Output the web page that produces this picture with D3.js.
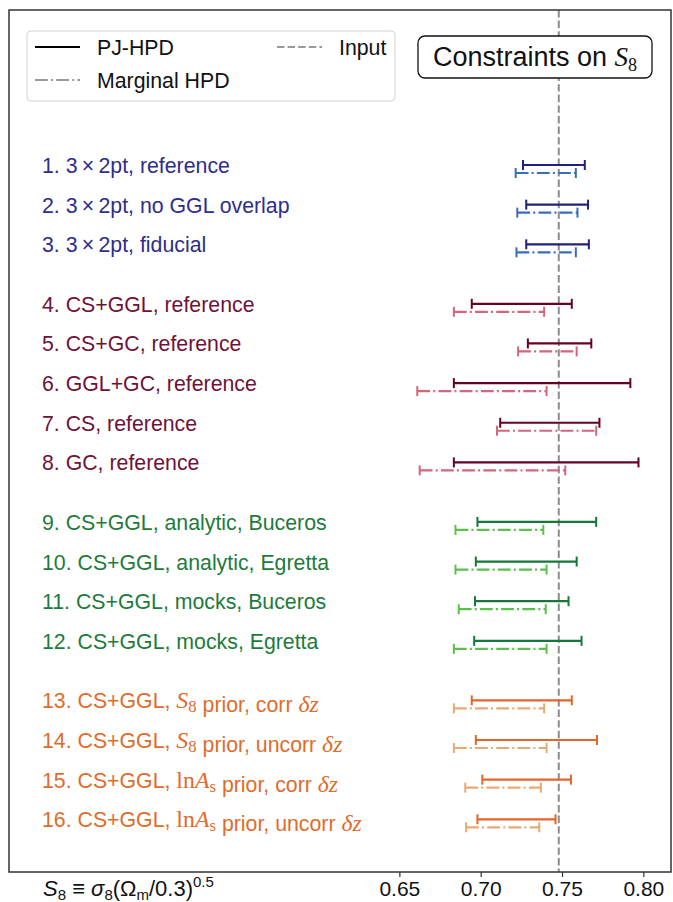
<!DOCTYPE html>
<html>
<head>
<meta charset="utf-8">
<script src="https://cdn.jsdelivr.net/npm/d3@7"></script>
<style>
  body { margin: 0; background: #fff; }
  text { font-family: "Liberation Sans", Arial, sans-serif; }
</style>
</head>
<body>
<div id="myDataVis"><svg></svg></div>
<script>
// chart values
const labels = [
  '1. 3\u2009×\u20092pt, reference',
  '2. 3\u2009×\u20092pt, no GGL overlap',
  '3. 3\u2009×\u20092pt, fiducial',
  '4. CS+GGL, reference',
  '5. CS+GC, reference',
  '6. GGL+GC, reference',
  '7. CS, reference',
  '8. GC, reference',
  '9. CS+GGL, analytic, Buceros',
  '10. CS+GGL, analytic, Egretta',
  '11. CS+GGL, mocks, Buceros',
  '12. CS+GGL, mocks, Egretta',
  '13. CS+GGL, {S8} prior, corr {dz}',
  '14. CS+GGL, {S8} prior, uncorr {dz}',
  '15. CS+GGL, {lnAs} prior, corr {dz}',
  '16. CS+GGL, {lnAs} prior, uncorr {dz}'
];
const groups = [0, 0, 0, 1, 1, 1, 1, 1, 2, 2, 2, 2, 3, 3, 3, 3];

const pjLow  = [0.726, 0.728, 0.728, 0.6945, 0.729, 0.6835, 0.712, 0.6835, 0.698, 0.697, 0.6965, 0.696, 0.6945, 0.697, 0.701, 0.698];
const pjHigh = [0.764, 0.766, 0.7665, 0.756, 0.768, 0.792, 0.773, 0.797, 0.771, 0.759, 0.754, 0.762, 0.756, 0.7715, 0.7555, 0.746];
const margLow  = [0.7215, 0.7225, 0.722, 0.6835, 0.723, 0.661, 0.710, 0.6625, 0.6845, 0.6845, 0.6865, 0.6835, 0.6835, 0.6835, 0.6905, 0.691];
const margHigh = [0.7585, 0.7595, 0.7585, 0.739, 0.759, 0.7405, 0.771, 0.752, 0.7385, 0.7405, 0.740, 0.7405, 0.739, 0.7405, 0.737, 0.736];

const inputS8 = 0.748;
const xTicks = [0.65, 0.70, 0.75, 0.80];

const solidColors = ['#22217f', '#650027', '#16773a', '#e2652a'];
const dashColors  = ['#3b6cc2', '#d3667b', '#5bbf4b', '#e7a975'];
const labelColors = ['#2d2e8c', '#6f1237', '#1d7b3b', '#e06c2b'];

const W = 673, H = 902;
const plot = {left: 9, right: 671, top: 10, bottom: 872};

const svg = d3.select('#myDataVis').select('svg')
    .attr('width', W)
    .attr('height', H);

const x = d3.scaleLinear()
    .domain([0.41, 0.817])
    .range([plot.left, plot.right]);

// rows sit one unit apart with half a unit extra between groups
const rowPos = labels.map((d, i) => i + 0.5 * groups[i]);
const y = d3.scaleLinear()
    .domain([0, 16.5])
    .range([165, 819.3]);

const offset = 8;   // marginal bar sits a bit below the PJ bar
const cap = 5;

// input line
svg.append('line')
    .attr('x1', x(inputS8))
    .attr('x2', x(inputS8))
    .attr('y1', plot.top)
    .attr('y2', plot.bottom)
    .attr('stroke', '#8c8c8c')
    .attr('stroke-width', 2)
    .attr('stroke-dasharray', '7.4,3.2');

// error bars
function drawBars(lo, hi, dy, colors, dash, cls) {
    const g = svg.selectAll('g.' + cls)
        .data(labels.map((d, i) => ({i, lo: lo[i], hi: hi[i], g: groups[i]})))
        .enter()
        .append('g')
        .attr('class', cls);

    g.append('line')
        .attr('x1', d => x(d.lo))
        .attr('x2', d => x(d.hi))
        .attr('y1', d => y(rowPos[d.i]) + dy)
        .attr('y2', d => y(rowPos[d.i]) + dy)
        .attr('stroke', d => colors[d.g])
        .attr('stroke-width', 2.2)
        .attr('stroke-dasharray', dash);

    ['lo', 'hi'].forEach(k => {
        g.append('line')
            .attr('x1', d => x(d[k]))
            .attr('x2', d => x(d[k]))
            .attr('y1', d => y(rowPos[d.i]) + dy - cap)
            .attr('y2', d => y(rowPos[d.i]) + dy + cap)
            .attr('stroke', d => colors[d.g])
            .attr('stroke-width', 2);
    });
}
drawBars(pjLow, pjHigh, 0, solidColors, null, 'pj');
drawBars(margLow, margHigh, offset, dashColors, '12.8,3.2,2,3.2', 'marg');

// labels with a little bit of math markup
const serif = '"Liberation Serif", "DejaVu Serif", serif';
function writeLabel(t, str, size) {
    const m = size * 1.12;
    const parts = str.split(/(\{[^}]+\})/).filter(s => s.length);
    parts.forEach(p => {
        if (p === '{S8}') {
            t.append('tspan').attr('font-family', serif).attr('font-size', m).attr('font-style', 'italic').text('S');
            t.append('tspan').attr('font-family', serif).attr('font-size', m * 0.7).attr('dy', 4).text('8');
            t.append('tspan').attr('dy', -4).text('');
        } else if (p === '{lnAs}') {
            t.append('tspan').attr('font-family', serif).attr('font-size', m).text('ln');
            t.append('tspan').attr('font-family', serif).attr('font-size', m).attr('font-style', 'italic').text('A');
            t.append('tspan').attr('font-family', serif).attr('font-size', m * 0.7).attr('dy', 4).text('s');
            t.append('tspan').attr('dy', -4).text('');
        } else if (p === '{dz}') {
            t.append('tspan').attr('font-family', serif).attr('font-size', m).attr('font-style', 'italic').text('δz');
        } else {
            t.append('tspan').text(p);
        }
    });
}

const labelSize = 21.3;
labels.forEach((lab, i) => {
    const t = svg.append('text')
        .attr('x', 42)
        .attr('y', y(rowPos[i]) + 8)
        .attr('font-size', labelSize)
        .attr('fill', labelColors[groups[i]]);
    writeLabel(t, lab, labelSize);
});

// axes frame
svg.append('rect')
    .attr('x', plot.left)
    .attr('y', plot.top)
    .attr('width', plot.right - plot.left)
    .attr('height', plot.bottom - plot.top)
    .attr('fill', 'none')
    .attr('stroke', '#333')
    .attr('stroke-width', 1.5);

const xAxis = svg.append('g')
    .attr('transform', `translate(0,${plot.bottom})`)
    .call(d3.axisBottom(x).tickValues(xTicks).tickFormat(d3.format('.2f')).tickSize(5).tickPadding(4));
xAxis.select('.domain').remove();
xAxis.selectAll('line').attr('stroke', '#333').attr('stroke-width', 1.2);
xAxis.selectAll('text').attr('font-size', 21).attr('fill', '#111')
    .attr('font-family', '"Liberation Sans", Arial, sans-serif');

// x label in math style
const xl = svg.append('text')
    .attr('x', 43)
    .attr('y', 896)
    .attr('font-size', 22)
    .attr('font-family', serif)
    .attr('fill', '#111');
xl.append('tspan').attr('font-style', 'italic').text('S');
xl.append('tspan').attr('font-size', 15).attr('dy', 4).text('8');
xl.append('tspan').attr('dy', -4).text(' ≡ ');
xl.append('tspan').attr('font-style', 'italic').text('σ');
xl.append('tspan').attr('font-size', 15).attr('dy', 4).text('8');
xl.append('tspan').attr('dy', -4).text('(Ω');
xl.append('tspan').attr('font-size', 15).attr('dy', 4).text('m');
xl.append('tspan').attr('dy', -4).text('/0.3)');
xl.append('tspan').attr('font-size', 15).attr('dy', -9).text('0.5');

// legend
const legend = svg.append('g').attr('class', 'legend');
legend.append('rect')
    .attr('x', 27).attr('y', 31)
    .attr('width', 368).attr('height', 70)
    .attr('rx', 4)
    .attr('fill', 'white').attr('fill-opacity', 0.85)
    .attr('stroke', '#d4d4d4');

const legendItems = [
    {x: 35, y: 47, label: 'PJ-HPD', color: '#000', dash: null},
    {x: 35, y: 80, label: 'Marginal HPD', color: '#999', dash: '12.8,3.2,2,3.2'},
    {x: 277, y: 47, label: 'Input', color: '#999', dash: '7.4,3.2'}
];
legendItems.forEach(d => {
    legend.append('line')
        .attr('x1', d.x).attr('x2', d.x + 45)
        .attr('y1', d.y).attr('y2', d.y)
        .attr('stroke', d.color).attr('stroke-width', 2)
        .attr('stroke-dasharray', d.dash);
    legend.append('text')
        .attr('x', d.x + 62)
        .attr('y', d.y + 8)
        .attr('font-size', 21.3)
        .attr('fill', '#111')
        .text(d.label);
});

// title box
svg.append('rect')
    .attr('x', 418).attr('y', 36)
    .attr('width', 234).attr('height', 42)
    .attr('rx', 7)
    .attr('fill', 'white')
    .attr('stroke', '#111').attr('stroke-width', 1.3);
const tt = svg.append('text')
    .attr('x', 535).attr('y', 66)
    .attr('text-anchor', 'middle')
    .attr('font-size', 27)
    .attr('fill', '#111');
tt.append('tspan').text('Constraints on ');
tt.append('tspan').attr('font-family', serif).attr('font-style', 'italic').text('S');
tt.append('tspan').attr('font-family', serif).attr('font-size', 18).attr('dy', 5).text('8');
</script>
</body>
</html>
